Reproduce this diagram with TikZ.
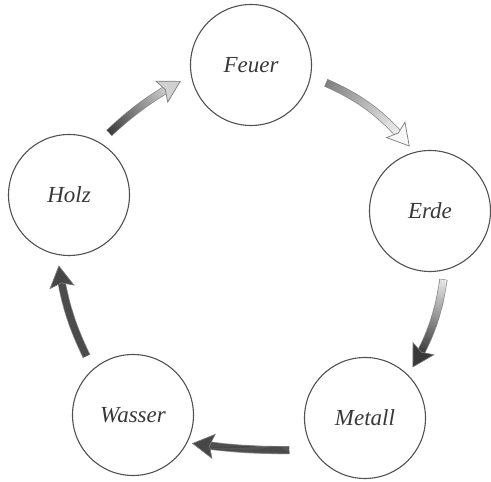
\documentclass[tikz,border=0pt]{standalone}
\usepackage{fontspec}
\setmainfont{Liberation Serif}
\usetikzlibrary{decorations.markings}

\colorlet{ringcol}{black!68}
\colorlet{flowdark}{black!72}
\colorlet{flowline}{black!52}

\tikzset{
  elem/.style={circle,draw=ringcol,line width=1.1pt,minimum size=121pt,inner sep=0pt,
    text=black!78,font=\fontsize{23}{26}\selectfont\itshape},
  % #1 tail colour, #2 head colour, #3 start, #4 shaft end, #5 tip
  flow/.style n args={5}{
    postaction={decorate,decoration={markings,
      mark=at position #3 with {\fill[flowline] (-0.8pt,-4pt) rectangle (0pt,4pt);},
      mark=between positions #3 and #4 step 0.5pt with {\fill[flowline] (-0.3pt,-4pt) rectangle (0.3pt,4pt);}}},
    postaction={decorate,decoration={markings,
      mark=between positions #3 and #4 step 0.5pt with {
        \colorlet{flowtail}{#1}\colorlet{flowhead}{#2}
        \pgfmathsetmacro\gradval{min(100,max(0,100*(\pgfkeysvalueof{/pgf/decoration/mark info/distance from start}-#3)/(\pgfdecoratedpathlength+#4-#3)))}
        \fill[flowhead!\gradval!flowtail] (-0.3pt,-3.3pt) rectangle (0.3pt,3.3pt);},
      mark=at position #5 with {
        \filldraw[draw=flowline,fill=#2,line width=0.7pt,line join=miter]
          (0,0) -- (-21pt,12pt) -- (-17pt,0) -- (-21pt,-12pt) -- cycle;}}}},
}

\begin{document}
\begin{tikzpicture}[x=1pt,y=1pt]
\useasboundingbox (0,0) rectangle (491,482);
% --- the five elements ---
\node[elem] (feuer) at (251,417) {Feuer};
\node[elem] (erde) at (430,271) {Erde};
\node[elem] (metall) at (365,64) {Metall};
\node[elem] (wasser) at (133,67) {Wasser};
\node[elem] (holz) at (69,287) {Holz};
% --- cycle arrows ---
\path[flow={black!78}{black!18}{14pt}{-29pt}{-12pt}] (holz.60) to[bend left=8] (feuer.190);
\path[flow={black!50}{black!3}{17pt}{-25pt}{-8pt}] (feuer.-11) to[bend left=15] (erde.105);
\path[flow={black!5}{black!78}{10pt}{-26pt}{-9pt}] (erde.-76) to[bend left=12] (metall.45);
\path[flow={flowdark}{flowdark}{24pt}{-22pt}{-5pt}] (metall.211) to[bend left=5] (wasser.-27);
\path[flow={flowdark}{flowdark}{15pt}{-28pt}{-11pt}] (wasser.131) to[bend left=10] (holz.259);
\end{tikzpicture}
\end{document}
